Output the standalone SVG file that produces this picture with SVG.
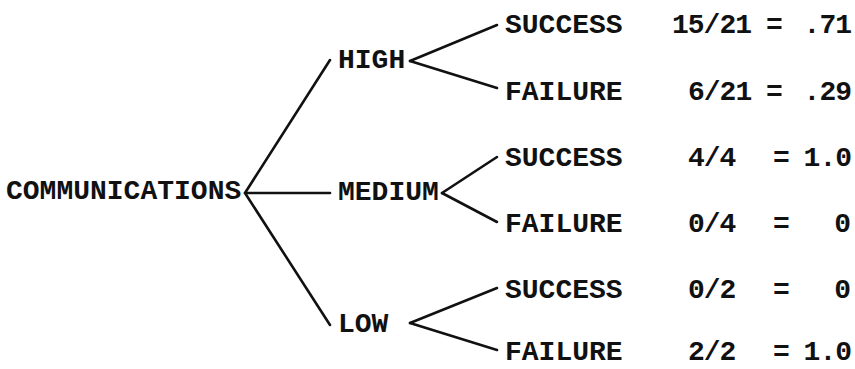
<svg xmlns="http://www.w3.org/2000/svg" width="855" height="369" viewBox="0 0 855 369">
<style>
text{font-family:"Liberation Mono","Courier New",monospace;font-weight:bold;font-size:28px;fill:#111}
.n{letter-spacing:-1px}
.e{text-anchor:end}
.c line{stroke:#111;stroke-width:2.6;stroke-linecap:round}
</style>
<rect width="855" height="369" fill="#fff"/>
<g class="c" id="connectors">
<line x1="245" y1="193" x2="330" y2="60"/>
<line x1="247" y1="193" x2="330" y2="193"/>
<line x1="245" y1="193" x2="330" y2="325"/>
<line x1="410" y1="61" x2="497" y2="25"/>
<line x1="410" y1="61" x2="497" y2="88"/>
<line x1="442" y1="193" x2="497" y2="157"/>
<line x1="442" y1="193" x2="497" y2="222"/>
<line x1="410" y1="323" x2="497" y2="288"/>
<line x1="410" y1="323" x2="497" y2="350"/>
</g>
<g id="communications"><text x="6" y="199">COMMUNICATIONS</text></g>
<g id="high"><text x="338" y="68">HIGH</text></g>
<g id="medium"><text x="338" y="200">MEDIUM</text></g>
<g id="low"><text x="338" y="332">LOW</text></g>
<g id="high-success"><text x="505" y="33">SUCCESS</text><text class="n" x="672" y="33">15/21</text><text x="766" y="33">=</text><text class="e n" x="851" y="33">.71</text></g>
<g id="high-failure"><text x="505" y="100">FAILURE</text><text class="n" x="688" y="100">6/21</text><text x="766" y="100">=</text><text class="e n" x="851" y="100">.29</text></g>
<g id="medium-success"><text x="505" y="166">SUCCESS</text><text class="n" x="688" y="166">4/4</text><text x="773" y="166">=</text><text class="e n" x="851" y="166">1.0</text></g>
<g id="medium-failure"><text x="505" y="232">FAILURE</text><text class="n" x="688" y="232">0/4</text><text x="773" y="232">=</text><text class="e" x="851" y="232">0</text></g>
<g id="low-success"><text x="505" y="298">SUCCESS</text><text class="n" x="688" y="298">0/2</text><text x="773" y="298">=</text><text class="e" x="851" y="298">0</text></g>
<g id="low-failure"><text x="505" y="360">FAILURE</text><text class="n" x="688" y="360">2/2</text><text x="773" y="360">=</text><text class="e n" x="851" y="360">1.0</text></g>
</svg>
